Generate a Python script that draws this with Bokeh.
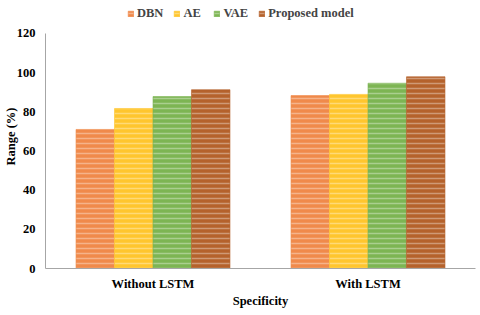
from bokeh.plotting import figure
from bokeh.models import ColumnDataSource, FactorRange, Legend, LegendItem, Range1d
from bokeh.transform import dodge
from bokeh.embed import file_html
from bokeh.resources import INLINE

groups = ["Without LSTM", "With LSTM"]
series = ["DBN", "AE", "VAE", "Proposed model"]
dbn = [71.0, 88.3]
ae = [81.7, 88.9]
vae = [87.8, 94.6]
proposed = [91.3, 97.9]
colors = ["#F08A4B", "#FFC62E", "#7DB553", "#B5622C"]
y_ticks = [0, 20, 40, 60, 80, 100, 120]

src = ColumnDataSource(dict(g=groups, DBN=dbn, AE=ae, VAE=vae, P=proposed))
cols = ["DBN", "AE", "VAE", "P"]

# frame extended above 120 so the legend fits inside it; axis line bounded to 0..120
p = figure(x_range=FactorRange(*groups, range_padding=0), y_range=Range1d(0, 134.8),
           width=478, height=313, output_backend="svg", toolbar_location=None,
           min_border_left=45, min_border_right=3, min_border_top=4, min_border_bottom=45)
p.outline_line_color = None
p.xgrid.visible = False
p.ygrid.visible = False

w = 0.179
offsets = [-1.5 * w, -0.5 * w, 0.5 * w, 1.5 * w]
items = []
for c, name, col, off in zip(cols, series, colors, offsets):
    r = p.vbar(x=dodge("g", off, range=p.x_range), top=c, width=w, source=src,
               fill_color=col, line_color=col, line_alpha=0.6,
               hatch_pattern="horizontal_line", hatch_color="white",
               hatch_alpha=0.35, hatch_scale=5, hatch_weight=1.5)
    items.append(LegendItem(label=name, renderers=[r]))

legend = Legend(items=items, orientation="horizontal", location=(82, 247),
                label_text_font="Liberation Serif", label_text_font_style="bold",
                label_text_font_size="12.5px", glyph_width=7, glyph_height=7,
                spacing=10, label_standoff=3, border_line_color=None,
                background_fill_alpha=0, padding=0, margin=0)
p.add_layout(legend, "center")

for ax in (p.xaxis[0], p.yaxis[0]):
    ax.major_label_text_font = "Liberation Serif"
    ax.major_label_text_font_style = "bold"
    ax.major_label_text_font_size = "12.5px"
    ax.major_label_text_color = "black"
    ax.axis_label_text_font = "Liberation Serif"
    ax.axis_label_text_font_style = "bold"
    ax.axis_label_text_font_size = "12.5px"
    ax.axis_label_text_color = "black"
    ax.axis_line_color = "#A6A6A6"
    ax.major_tick_line_color = None
    ax.minor_tick_line_color = None
    ax.major_tick_out = 0
    ax.major_tick_in = 0
    ax.minor_tick_out = 0
    ax.minor_tick_in = 0

p.yaxis.ticker = y_ticks
p.yaxis.bounds = (0, 120)
p.yaxis.axis_label = "Range (%)"
p.yaxis.major_label_standoff = 10
p.yaxis.axis_label_standoff = -4
p.xaxis.axis_label = "Specificity"
p.xaxis.major_label_standoff = 8
p.xaxis.axis_label_standoff = 0
p.xaxis.group_text_font_size = "0px"

open("out.html", "w").write(file_html(p, INLINE))
